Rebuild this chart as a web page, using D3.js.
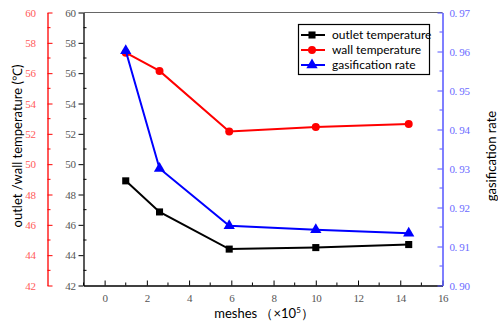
<!DOCTYPE html>
<head>
<meta charset="utf-8">
<script src="https://d3js.org/d3.v7.min.js"></script>
<style>
  body { margin: 0; background: #fff; }
  .tick text { font-family: "Liberation Serif", serif; font-size: 11px; letter-spacing: -0.4px; }
  .ttl { font-family: Lato, sans-serif; font-size: 13px; fill: #000; }
  .leg { font-family: Lato, sans-serif; font-size: 12px; fill: #000; }
</style>
</head>
<body>
<svg width="498" height="324"></svg>
<script>
// data
var meshes = [1, 2.6, 5.9, 10, 14.4];
var outletTemp = [48.9, 46.85, 44.4, 44.5, 44.7];
var wallTemp = [57.35, 56.15, 52.15, 52.45, 52.65];
var gasRate = [0.9602, 0.930, 0.9153, 0.9143, 0.9134];
var xTicks = [0, 2, 4, 6, 8, 10, 12, 14, 16];
var tempTicks = [42, 44, 46, 48, 50, 52, 54, 56, 58, 60];
var rateTicks = [0.90, 0.91, 0.92, 0.93, 0.94, 0.95, 0.96, 0.97];

var svg = d3.select("svg");
var pLeft = 83.5, pRight = 442.5, pTop = 12.5, pBottom = 285.5;

var x = d3.scaleLinear().domain([-1, 16]).range([pLeft, pRight]);
var yT = d3.scaleLinear().domain([42, 60]).range([pBottom, pTop]);
var yR = d3.scaleLinear().domain([0.90, 0.97]).range([pBottom, pTop]);

// top frame line
svg.append("line").attr("x1", pLeft).attr("x2", pRight).attr("y1", pTop).attr("y2", pTop)
  .attr("stroke", "#666").attr("stroke-width", 1.2);

// minor ticks helper
function minor(g, vals, fn) {
  g.selectAll(null).data(vals).enter().append("line").each(fn);
}

// x axis: ticks point inward
var gx = svg.append("g").attr("transform", "translate(0," + pBottom + ")")
  .call(d3.axisBottom(x).tickValues(xTicks).tickSize(-5).tickPadding(9).tickSizeOuter(0));
gx.select(".domain").attr("stroke", "#000").attr("stroke-width", 1.3);
gx.selectAll(".tick text").attr("fill", "#555");
minor(gx, d3.range(-1, 16, 2), function(d) {
  d3.select(this).attr("x1", x(d)).attr("x2", x(d)).attr("y1", 0).attr("y2", -3).attr("stroke", "#000");
});

// inner black temperature axis
var gy = svg.append("g").attr("transform", "translate(" + pLeft + ",0)")
  .call(d3.axisLeft(yT).tickValues(tempTicks).tickSize(5).tickPadding(3).tickSizeOuter(0));
gy.select(".domain").attr("stroke", "#000").attr("stroke-width", 1.3);
gy.selectAll(".tick text").attr("fill", "#555");
minor(gy, d3.range(43, 60, 2), function(d) {
  d3.select(this).attr("x1", 0).attr("x2", 3).attr("y1", yT(d)).attr("y2", yT(d)).attr("stroke", "#000");
});

// outer red temperature axis
var redX = 47.5;
var gr = svg.append("g").attr("transform", "translate(" + redX + ",0)")
  .call(d3.axisLeft(yT).tickValues(tempTicks).tickSize(-5).tickPadding(12).tickSizeOuter(0));
gr.select(".domain").attr("stroke", "#ff0000").attr("stroke-width", 1.3);
gr.selectAll(".tick line").attr("stroke", "#ff0000");
gr.selectAll(".tick text").attr("fill", "#ff5a5a");
minor(gr, d3.range(43, 60, 2), function(d) {
  d3.select(this).attr("x1", 0).attr("x2", 3).attr("y1", yT(d)).attr("y2", yT(d)).attr("stroke", "#ff0000");
});

// right blue rate axis, ticks inward
var gb = svg.append("g").attr("transform", "translate(" + pRight + ",0)")
  .call(d3.axisRight(yR).tickValues(rateTicks).tickSize(-5).tickPadding(7).tickSizeOuter(0)
    .tickFormat(function(d) { return d3.format(".2f")(d).replace(".", ". "); }));
gb.select(".domain").attr("stroke", "#5555ff").attr("stroke-width", 1.5);
gb.selectAll(".tick line").attr("stroke", "#5555ff");
gb.selectAll(".tick text").attr("fill", "#6b6bff");
minor(gb, d3.range(0.905, 0.97, 0.01), function(d) {
  d3.select(this).attr("x1", 0).attr("x2", -3).attr("y1", yR(d)).attr("y2", yR(d)).attr("stroke", "#5555ff");
});

// axis titles
svg.append("text").attr("class", "ttl").attr("text-anchor", "middle")
  .attr("transform", "translate(22,146) rotate(-90)").text("outlet /wall temperature (℃)");
svg.append("text").attr("class", "ttl").attr("text-anchor", "middle")
  .attr("transform", "translate(496,156) rotate(-90)").text("gasification rate");
var xl = svg.append("text").attr("class", "ttl").attr("text-anchor", "middle")
  .attr("x", 264).attr("y", 318);
xl.append("tspan").text("meshes （×10");
xl.append("tspan").attr("dy", -5).attr("font-size", 8).text("5");
xl.append("tspan").attr("dy", 5).text("）");

// series
var series = [
  { name: "outlet temperature", vals: outletTemp, y: yT, color: "#000", mark: d3.symbolSquare, size: 50 },
  { name: "wall temperature", vals: wallTemp, y: yT, color: "#ff0000", mark: d3.symbolCircle, size: 50 },
  { name: "gasification rate", vals: gasRate, y: yR, color: "#0000ff", mark: d3.symbolTriangle, size: 55 }
];

series.forEach(function(s) {
  var line = d3.line().x(function(d, i) { return x(meshes[i]); }).y(function(d) { return s.y(d); });
  svg.append("path").datum(s.vals).attr("d", line)
    .attr("fill", "none").attr("stroke", s.color).attr("stroke-width", 2);
  svg.selectAll(null).data(s.vals).enter().append("path")
    .attr("d", d3.symbol().type(s.mark).size(s.size))
    .attr("transform", function(d, i) { return "translate(" + x(meshes[i]) + "," + s.y(d) + ")"; })
    .attr("fill", s.color);
});

// legend
var lg = svg.append("g").attr("transform", "translate(298,24)");
lg.append("rect").attr("x", 0.5).attr("y", 0.5).attr("width", 131).attr("height", 50)
  .attr("fill", "#fff").attr("stroke", "#000").attr("stroke-width", 1.2);
series.forEach(function(s, i) {
  var ly = 11 + i * 15;
  lg.append("line").attr("x1", 3).attr("x2", 27).attr("y1", ly).attr("y2", ly)
    .attr("stroke", s.color).attr("stroke-width", 2);
  lg.append("path").attr("d", d3.symbol().type(s.mark).size(s.size))
    .attr("transform", "translate(14," + ly + ")").attr("fill", s.color);
  lg.append("text").attr("class", "leg").attr("x", 34).attr("y", ly + 4).text(s.name);
});
</script>
</body>
</html>
